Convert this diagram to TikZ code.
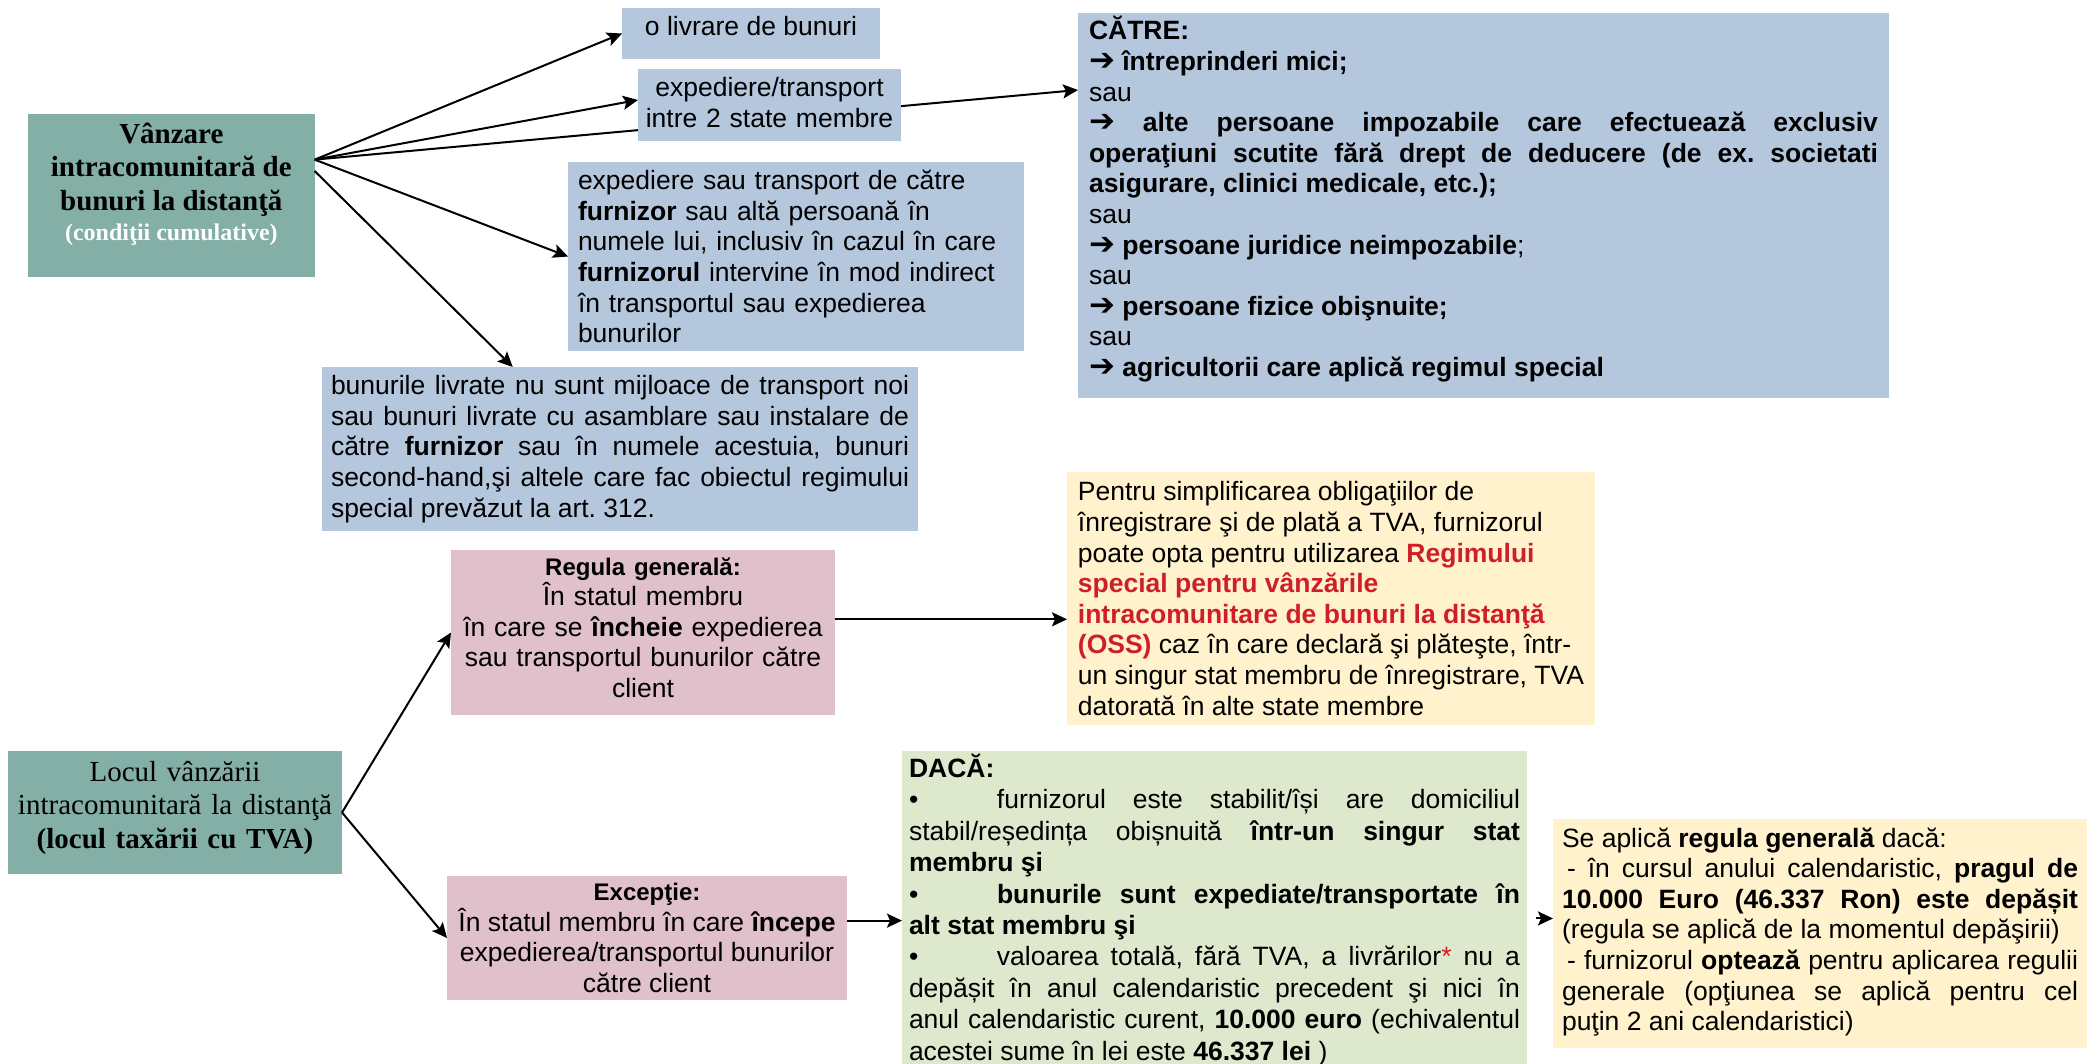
\documentclass[tikz,border=0pt]{standalone}
\usepackage{fontspec}
\setmainfont{Liberation Sans}
\newfontfamily\timesface{Liberation Serif}
\newfontfamily\arrowface{DejaVu Sans}
\usetikzlibrary{arrows.meta, backgrounds, calc}

\definecolor{tealbox}{RGB}{131,175,166}
\definecolor{bluebox}{RGB}{180,199,221}
\definecolor{pinkbox}{RGB}{224,192,203}
\definecolor{yellowbox}{RGB}{255,242,204}
\definecolor{greenbox}{RGB}{221,232,205}
\definecolor{ossred}{RGB}{208,30,40}

\newcommand{\bodysize}{\fontsize{26.5}{30.6}\selectfont}
\newcommand{\headsize}{\fontsize{24}{28}\selectfont}
\newcommand{\serifsize}{\fontsize{29}{33.5}\selectfont}
\newcommand{\arr}{{\arrowface\fontsize{31}{30}\selectfont ➔}}
\newcommand{\bul}{\makebox[88pt][l]{\textbullet}}
\frenchspacing

\begin{document}
\begin{tikzpicture}[x=1pt, y=-1pt,
  box/.style={anchor=north west, inner ysep=0pt, outer sep=0pt, font=\bodysize},
  conn/.style={line width=2pt, -{Stealth[length=15pt, width=14pt, inset=3pt]}}]
\useasboundingbox (0,0) rectangle (2087,1064);
% Distance sale and its conditions
\node[box, fill=tealbox, font=\timesface\serifsize\bfseries, minimum width=286pt, minimum height=163pt] (vanzare) at (28,114)
  {\parbox{280pt}{\centering Vânzare\\ intracomunitară de\\ bunuri la distanţă\\[-3pt] {\fontsize{24}{28}\selectfont\color{white}(condiţii cumulative)}\par\vspace{22pt}}};
\node[box, fill=bluebox, minimum width=258pt, minimum height=51pt, text height=28pt, text depth=23pt, inner xsep=0pt] (livrare) at (622,8) {o livrare de bunuri};
\node[box, fill=bluebox, text width=257pt, inner xsep=3pt, text height=27.5pt, text depth=44.5pt, align=center] (transport) at (638,69) {expediere/transport\\ intre 2 state membre};
\node[box, fill=bluebox, text width=436pt, inner xsep=10pt, minimum height=189pt, align=left] (furnizor) at (568,162)
  {expediere sau transport de către\\ \textbf{furnizor} sau altă persoană în\\ numele lui, inclusiv în cazul în care\\ \textbf{furnizorul} intervine în mod indirect\\ în transportul sau expedierea\\ bunurilor};
\node[box, fill=bluebox, text width=578pt, inner xsep=9pt, minimum height=164pt, align=justify] (bunuri) at (322,367)
  {bunurile livrate nu sunt mijloace de transport noi\linebreak sau bunuri livrate cu asamblare sau instalare de\linebreak către \textbf{furnizor} sau în numele acestuia, bunuri\linebreak second-hand,şi altele care fac obiectul regimului\linebreak special prevăzut la art. 312.};
\node[box, fill=bluebox, text width=789pt, inner xsep=11pt, text height=27pt, text depth=358pt, align=justify, font=\bodysize\bfseries] (catre) at (1078,13)
  {CĂTRE:\\ \arr{} întreprinderi mici;\\ \textmd{sau}\\ \arr{} alte persoane impozabile care efectuează exclusiv\linebreak operaţiuni scutite fără drept de deducere (de ex. societati\linebreak asigurare, clinici medicale, etc.);\\ \textmd{sau}\\ \arr{} persoane juridice neimpozabile\textmd{;}\\ \textmd{sau}\\ \arr{} persoane fizice obişnuite;\\ \textmd{sau}\\ \arr{} agricultorii care aplică regimul special};
% Place of taxation
\node[box, fill=tealbox, font=\timesface\serifsize, text width=320pt, inner xsep=7pt, text height=30pt, text depth=93pt, align=center] (locul) at (8,751)
  {Locul vânzării\\ intracomunitară la distanţă\\ \textbf{(locul taxării cu TVA)}};
\node[box, fill=pinkbox, text width=370pt, inner xsep=7pt, text height=25pt, text depth=140pt, align=center] (regula) at (451,550)
  {{\headsize\textbf{Regula generală:}}\\ În statul membru\\ în care se \textbf{încheie} expedierea\\ sau transportul bunurilor către\\ client};
\node[box, fill=pinkbox, minimum width=400pt, minimum height=124pt, align=center] (exceptie) at (447,876)
  {{\headsize\textbf{Excepţie:}}\\ În statul membru în care \textbf{începe}\\ expedierea/transportul bunurilor\\ către client};
\node[box, fill=yellowbox, minimum width=528pt, minimum height=253pt, align=left] (oss) at (1067,472)
  {Pentru simplificarea obligaţiilor de\\ înregistrare şi de plată a TVA, furnizorul\\ poate opta pentru utilizarea \textcolor{ossred}{\textbf{Regimului}}\\ \textcolor{ossred}{\textbf{special pentru vânzările}}\\ \textcolor{ossred}{\textbf{intracomunitare de bunuri la distanţă}}\\ \textcolor{ossred}{\textbf{(OSS)}} caz în care declară şi plăteşte, într-\\ un singur stat membru de înregistrare, TVA\\ datorată în alte state membre};
\node[box, fill=greenbox, font=\fontsize{26.5}{31.4}\selectfont, text width=611pt, inner xsep=7pt, text height=26.5pt, text depth=286.5pt, align=justify] (daca) at (902,751)
  {\textbf{DACĂ:}\\ \bul furnizorul este stabilit/își are domiciliul\linebreak stabil/reședința obișnuită \textbf{într-un singur stat}\linebreak \textbf{membru şi}\\ \bul\textbf{bunurile sunt expediate/transportate în}\linebreak \textbf{alt stat membru şi}\\ \bul valoarea totală, fără TVA, a livrărilor\textcolor{ossred}{*} nu a\linebreak depășit în anul calendaristic precedent şi nici în\linebreak anul calendaristic curent, \textbf{10.000 euro} (echivalentul\linebreak acestei sume în lei este \textbf{46.337 lei} )};
\node[box, fill=yellowbox, text width=516pt, inner xsep=9pt, text height=28pt, text depth=201pt, align=justify] (aplica) at (1553,819)
  {Se aplică \textbf{regula generală} dacă:\\ \hspace*{5pt}- în cursul anului calendaristic, \textbf{pragul de}\linebreak \textbf{10.000 Euro (46.337 Ron) este depășit}\linebreak (regula se aplică de la momentul depăşirii)\\ \hspace*{5pt}- furnizorul \textbf{optează} pentru aplicarea regulii\linebreak generale (opţiunea se aplică pentru cel\linebreak puţin 2 ani calendaristici)};
% Connectors from the distance sale
\coordinate (fan) at ($(vanzare.north east)!.28!(vanzare.south east)$);
\coordinate (fanlow) at ($(vanzare.north east)!.35!(vanzare.south east)$);
\begin{scope}[on background layer]
\draw[conn] (fan) -- ($(catre.north west)!.2!(catre.south west)$);
\end{scope}
\draw[conn] (fan) -- (livrare.west);
\draw[conn] (fan) -- ($(transport.north west)!.43!(transport.south west)$);
\draw[conn] (fan) -- (furnizor.west);
\draw[conn] (fanlow) -- ($(bunuri.north west)!.32!(bunuri.north east)$);
% Connectors from the place of taxation
\draw[conn] (locul.east) -- (regula.west);
\draw[conn] (locul.east) -- (exceptie.west);
\coordinate (rg) at ($(regula.north east)!.42!(regula.south east)$);
\draw[conn] (rg) -- (rg -| oss.west);
\coordinate (ex) at ($(exceptie.north east)!.36!(exceptie.south east)$);
\draw[conn] (ex) -- (ex -| daca.west);
\coordinate (dc) at ($(daca.north east)!.535!(daca.south east)$);
\draw[conn, shorten <=9pt] (dc) -- (dc -| aplica.west);
\end{tikzpicture}
\end{document}
